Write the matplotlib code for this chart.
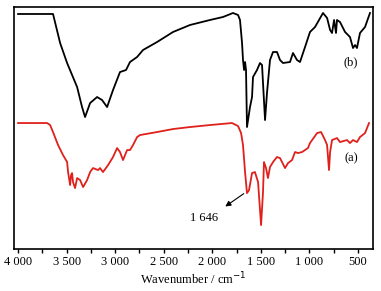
import matplotlib.pyplot as plt
from matplotlib.ticker import FixedLocator, FuncFormatter

# (b) black spectrum, wavenumber / relative transmittance (arb.)
wn_b = [4000, 3650, 3640, 3567, 3495, 3392, 3341, 3310, 3258, 3186, 3135, 3083,
        3022, 2950, 2888, 2847, 2774, 2713, 2568, 2404, 2229, 2023, 1889, 1786,
        1734, 1714, 1693, 1683, 1672, 1662, 1652, 1642, 1611, 1590, 1580, 1539,
        1508, 1487, 1477, 1456, 1436, 1405, 1374, 1333, 1302, 1271, 1199, 1168,
        1127, 1096, 1044, 993, 941, 859, 817, 786, 766, 745, 725, 715, 684, 632,
        581, 550, 529, 509, 478, 426, 375]
t_b = [235, 235, 235, 206, 186, 162, 142, 132, 146, 152, 149, 142,
       159, 177, 179, 187, 192, 199, 207, 217, 224, 229, 232, 236,
       234, 229, 206, 189, 179, 187, 179, 122, 142, 152, 172, 179,
       186, 184, 166, 129, 156, 189, 197, 197, 189, 186, 187, 196,
       189, 187, 202, 217, 222, 236, 231, 219, 216, 229, 216, 229, 227, 217,
       212, 201, 204, 201, 216, 222, 236]

# (a) red spectrum
wn_a = [4000, 3701, 3670, 3640, 3588, 3537, 3495, 3485, 3464, 3454, 3444, 3434,
        3413, 3392, 3361, 3330, 3289, 3258, 3228, 3176, 3156, 3125, 3073, 3022,
        2980, 2950, 2919, 2877, 2847, 2816, 2774, 2744, 2568, 2404, 2229, 2023,
        1796, 1734, 1703, 1683, 1662, 1642, 1621, 1590, 1560, 1528, 1497, 1477,
        1467, 1446, 1426, 1405, 1374, 1333, 1302, 1250, 1219, 1178, 1147, 1116,
        1075, 1044, 1014, 993, 920, 879, 838, 817, 797, 786, 766, 715, 684, 612,
        581, 550, 509, 478, 426, 385]
t_a = [126, 126, 124, 117, 104, 94, 87, 77, 64, 74, 76, 67,
       61, 71, 69, 62, 69, 77, 81, 79, 81, 77, 84, 92,
       101, 97, 89, 99, 99, 104, 112, 114, 117, 120, 122, 124,
       126, 123, 116, 104, 77, 56, 59, 76, 77, 67, 24, 57,
       87, 81, 71, 82, 87, 92, 91, 81, 86, 89, 97, 96,
       97, 99, 101, 106, 116, 117, 109, 104, 79, 97, 109, 111, 107, 109,
       106, 109, 107, 112, 116, 126]

xticks = [4000, 3500, 3000, 2500, 2000, 1500, 1000, 500]

plt.rcParams['font.family'] = ['Liberation Serif', 'DejaVu Serif']
plt.rcParams['font.size'] = 9

fig = plt.figure(figsize=(3.81, 2.91), dpi=100)
ax = fig.add_axes([0.037, 0.144, 0.942, 0.832])

ax.plot(wn_b, t_b, color='black', lw=1.3)
ax.plot(wn_a, t_a, color='#e0201b', lw=1.3)

ax.set_xlim(4041, 344)
ax.set_ylim(0, 242)
ax.set_yticks([])
ax.xaxis.set_major_locator(FixedLocator(xticks))
ax.xaxis.set_minor_locator(FixedLocator([3750, 3250, 2750, 2250, 1750, 1250, 750]))
ax.xaxis.set_major_formatter(FuncFormatter(
    lambda v, p: f'{int(v):,}'.replace(',', ' ')))
ax.tick_params(axis='x', which='both', direction='out', length=3, width=1, pad=2)
for s in ax.spines.values():
    s.set_linewidth(1.2)
ax.set_xlabel('Wavenumber / cm$^{-1}$', labelpad=2)

ax.text(570, 187, '(b)', ha='center', va='center', fontsize=9)
ax.text(570, 91, '(a)', ha='center', va='center', fontsize=9)
ax.annotate('', xy=(1889, 41), xytext=(1652, 57),
            arrowprops=dict(arrowstyle='-|>', color='black', lw=0.8,
                            mutation_scale=8))
ax.text(2080, 31, '1 646', ha='center', va='center', fontsize=9)

fig.savefig('out.png', dpi=100)
